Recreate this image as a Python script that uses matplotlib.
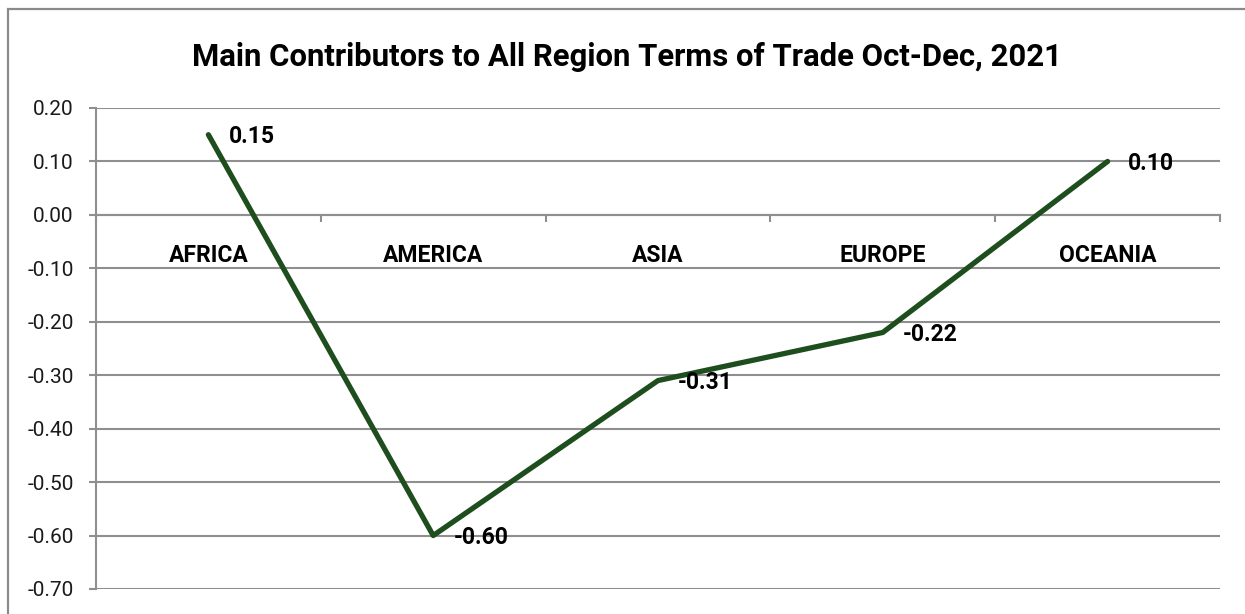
import matplotlib
matplotlib.use("Agg")
import matplotlib.pyplot as plt
from matplotlib.patches import Rectangle
from matplotlib.ticker import FixedLocator, NullFormatter, FixedFormatter

plt.rcParams['font.family'] = ['Roboto', 'DejaVu Sans']

# data
regions = ['AFRICA', 'AMERICA', 'ASIA', 'EUROPE', 'OCEANIA']
values = [0.15, -0.60, -0.31, -0.22, 0.10]
labels = ['0.15', '-0.60', '-0.31', '-0.22', '0.10']
yticks = [0.20, 0.10, 0.00, -0.10, -0.20, -0.30, -0.40, -0.50, -0.60, -0.70]

grid_col = '#8f8f8f'
line_col = '#1e4d1e'

fig = plt.figure(figsize=(12.45, 6.14), dpi=100)
ax = fig.add_axes([96 / 1245, 1 - 589 / 614, (1220 - 96) / 1245, (589 - 108) / 614])

# outer chart border
fig.patches.append(Rectangle((8 / 1245, -0.05), 1.2, 1 - 9 / 614 + 0.05, transform=fig.transFigure,
                             fill=False, edgecolor='#8a8a8a', linewidth=1.6))

x = [i + 0.5 for i in range(len(regions))]
ax.plot(x, values, color=line_col, linewidth=3.8, solid_capstyle='round', zorder=3)

for xi, v, lab in zip(x, values, labels):
    ax.annotate(lab, (xi, v), xytext=(14.5, -1.5), textcoords='offset points',
                ha='left', va='center', fontsize=16.5, fontweight='bold', color='black', zorder=4)

ax.set_xlim(0, len(regions))
ax.set_ylim(-0.70, 0.20)

ax.set_yticks(yticks)
ax.set_yticklabels(['{:.2f}'.format(t) for t in yticks])
ax.yaxis.grid(True, color=grid_col, linewidth=1.5)
ax.tick_params(axis='y', length=5, width=1.5, color=grid_col, pad=11, labelsize=15, labelcolor='#1a1a1a')

# category axis sits on the zero line
ax.spines['bottom'].set_position(('data', 0))
ax.spines['bottom'].set_color(grid_col)
ax.spines['bottom'].set_linewidth(1.5)
ax.xaxis.set_major_locator(FixedLocator(range(len(regions) + 1)))
ax.xaxis.set_major_formatter(NullFormatter())
ax.xaxis.set_minor_locator(FixedLocator(x))
ax.xaxis.set_minor_formatter(FixedFormatter(regions))
ax.tick_params(axis='x', which='major', direction='out', length=5, width=1.5, color=grid_col)
ax.tick_params(axis='x', which='minor', length=0, pad=21, labelsize=16.5)
for t in ax.xaxis.get_minorticklabels():
    t.set_fontweight('bold')

ax.spines['left'].set_color(grid_col)
ax.spines['left'].set_linewidth(1.5)
ax.spines['top'].set_visible(False)
ax.spines['right'].set_visible(False)
ax.set_axisbelow(True)

fig.text(627 / 1245, 1 - 57 / 614, 'Main Contributors to All Region Terms of Trade Oct-Dec, 2021',
         ha='center', va='center', fontsize=22.4, fontweight='bold', color='black')

fig.savefig('out.png', dpi=100)
